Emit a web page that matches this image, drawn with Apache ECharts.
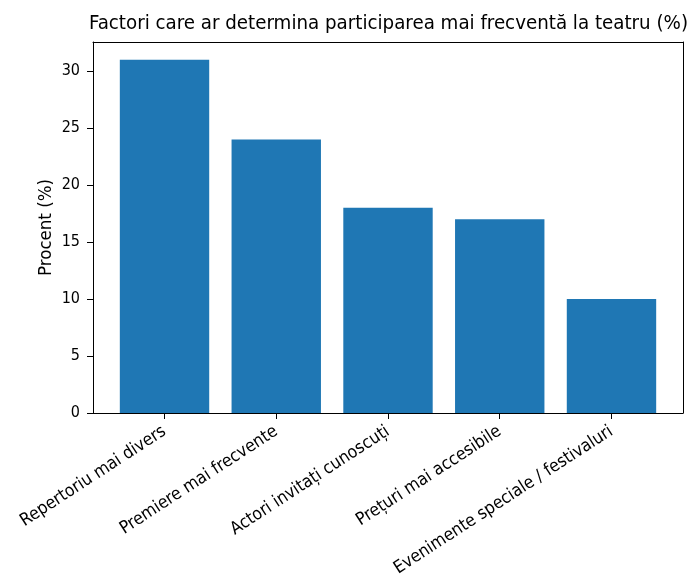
<!DOCTYPE html>
<html><head><meta charset="utf-8">
<script src="https://cdn.jsdelivr.net/npm/echarts@6/dist/echarts.min.js"></script>
<style>html,body{margin:0;padding:0;background:#fff}#c{width:690px;height:580px}</style>
</head><body><div id="c"></div>
<script>
const categories = ["Repertoriu mai divers", "Premiere mai frecvente", "Actori invitați cunoscuți", "Prețuri mai accesibile", "Evenimente speciale / festivaluri"];
const values = [31, 24, 18, 17, 10];
const yTicks = [0, 5, 10, 15, 20, 25, 30];
const titleText = "Factori care ar determina participarea mai frecventă la teatru (%)";
const yName = "Procent (%)";

const idx = categories.map((_, i) => i);
const yMax = Math.max(...values) * 1.05;
const xMin = -0.4 - 0.05 * (categories.length - 1 + 0.8);
const xMax = categories.length - 1 + 0.4 + 0.05 * (categories.length - 1 + 0.8);
const font = "'DejaVu Sans Condensed', 'DejaVu Sans'";
const chart = echarts.init(document.getElementById('c'));
const grid = {left: 93, right: 7, top: 42, bottom: 167};
const plotW = 690 - grid.left - grid.right;
chart.setOption({
  animation: false,
  title: {text: titleText, left: 84, top: 9,
    textStyle: {fontFamily: font, fontSize: 20.3, fontWeight: 'normal', color: '#000'}},
  grid: grid,
  xAxis: [{
    type: 'value', min: xMin, max: xMax, position: 'bottom',
    splitLine: {show: false},
    axisLine: {show: true, onZero: false, lineStyle: {color: '#000', width: 1}},
    axisTick: {show: true, length: 6, customValues: idx, lineStyle: {color: '#000'}},
    axisLabel: {customValues: idx, rotate: 33, margin: 17, fontFamily: font, fontSize: 17.5, color: '#000',
      formatter: v => categories[Math.round(v)] || ''}
  }, {
    type: 'value', min: xMin, max: xMax, position: 'top',
    splitLine: {show: false},
    axisLine: {show: true, onZero: false, lineStyle: {color: '#000', width: 1}},
    axisTick: {show: false}, axisLabel: {show: false}
  }],
  yAxis: [{
    type: 'value', min: 0, max: yMax, position: 'left',
    name: yName, nameLocation: 'middle', nameGap: 37, nameRotate: 90, nameMoveOverlap: false,
    nameTextStyle: {fontFamily: font, fontSize: 18.5, color: '#000'},
    splitLine: {show: false},
    axisLine: {show: true, onZero: false, lineStyle: {color: '#000', width: 1}},
    axisTick: {show: true, length: 6, customValues: yTicks, lineStyle: {color: '#000'}},
    axisLabel: {customValues: yTicks, margin: 13, fontFamily: font, fontSize: 16, color: '#000'}
  }, {
    type: 'value', min: 0, max: yMax, position: 'right',
    splitLine: {show: false},
    axisLine: {show: true, onZero: false, lineStyle: {color: '#000', width: 1}},
    axisTick: {show: false}, axisLabel: {show: false}
  }],
  series: [{
    type: 'bar', xAxisIndex: 0, yAxisIndex: 0,
    barWidth: 0.8 * plotW / (xMax - xMin),
    itemStyle: {color: '#1f77b4'},
    data: values.map((v, i) => [i, v])
  }]
});
</script></body></html>
